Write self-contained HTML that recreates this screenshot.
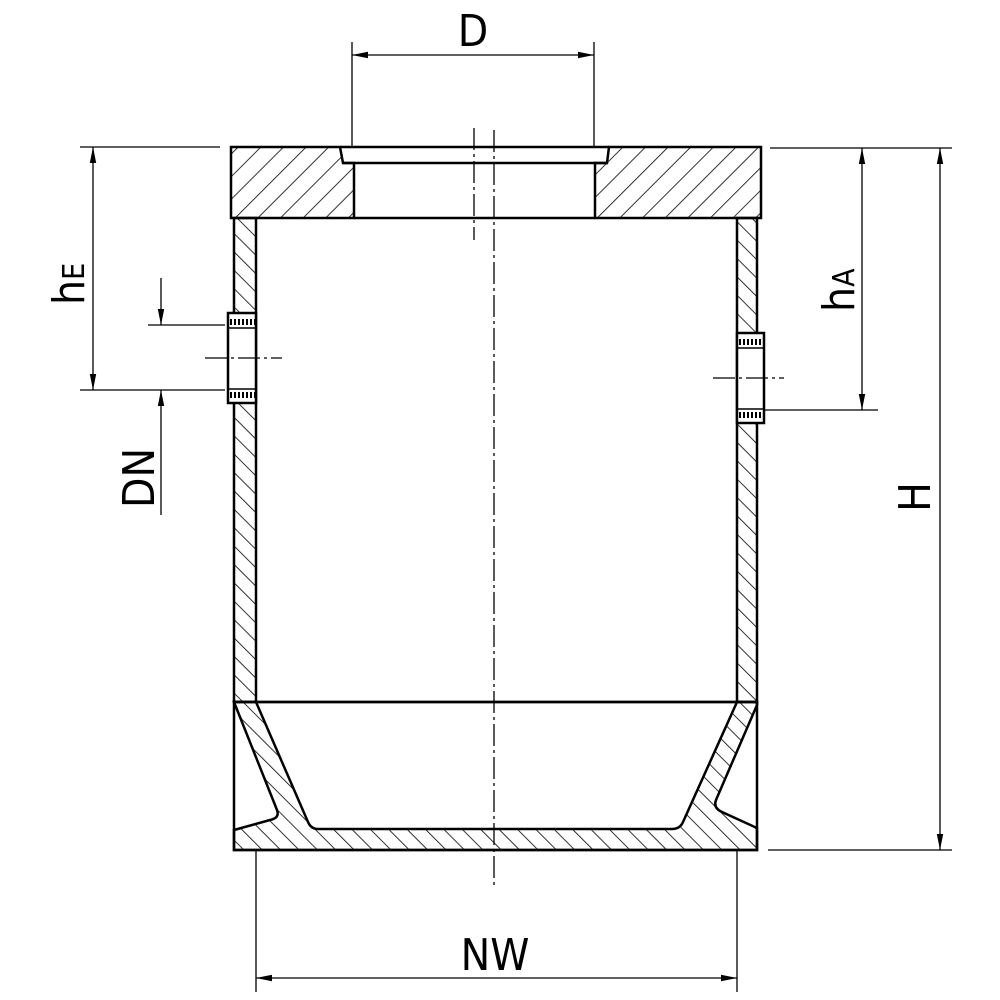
<!DOCTYPE html>
<html><head><meta charset="utf-8"><style>html,body{margin:0;padding:0;background:#fff}svg{display:block}</style></head>
<body>
<svg width="1000" height="1000" viewBox="0 0 1000 1000" xmlns="http://www.w3.org/2000/svg" font-family="DejaVu Sans Condensed, DejaVu Sans, Liberation Sans, sans-serif">
<defs>
<pattern id="hf" patternUnits="userSpaceOnUse" width="16" height="16" patternTransform="rotate(45)"><line x1="0" y1="0" x2="0" y2="16" stroke="#000" stroke-width="1.6"/></pattern>
<pattern id="hb" patternUnits="userSpaceOnUse" width="13" height="13" patternTransform="rotate(-45)"><line x1="0" y1="0" x2="0" y2="13" stroke="#000" stroke-width="1.6"/></pattern>
<marker id="ar" viewBox="0 0 10 10" refX="10" refY="5" markerWidth="16" markerHeight="16" markerUnits="userSpaceOnUse" orient="auto-start-reverse"><path d="M0,3 L10,5 L0,7 z" fill="#000"/></marker>
</defs>
<g stroke="#000" fill="none">
<!-- lid -->
<path d="M231,147 H340 L343,163 H354 V218 H231 Z" fill="url(#hf)" stroke-width="2.5"/>
<path d="M609,147 H761 V218 H595 V163 H607 Z" fill="url(#hf)" stroke-width="2.5"/>
<path d="M340,147 H609 M343,163 H607 M354,218 H595" stroke-width="2.5"/>
<!-- walls -->
<rect x="234" y="218" width="22" height="484" fill="url(#hb)" stroke-width="2.5"/>
<rect x="737" y="218" width="20" height="484" fill="url(#hb)" stroke-width="2.5"/>
<!-- sockets -->
<rect x="228" y="313" width="28" height="90" fill="#fff" stroke-width="2.5"/>
<line x1="230" y1="322" x2="256" y2="322" stroke-width="6" stroke-dasharray="2 2"/>
<line x1="230" y1="395" x2="256" y2="395" stroke-width="6" stroke-dasharray="2 2"/>
<line x1="228" y1="328" x2="256" y2="328" stroke-width="1.5"/>
<line x1="228" y1="389" x2="256" y2="389" stroke-width="1.5"/>
<rect x="737" y="333" width="27" height="90" fill="#fff" stroke-width="2.5"/>
<line x1="739" y1="342" x2="764" y2="342" stroke-width="6" stroke-dasharray="2 2"/>
<line x1="739" y1="415" x2="764" y2="415" stroke-width="6" stroke-dasharray="2 2"/>
<line x1="737" y1="348" x2="764" y2="348" stroke-width="1.5"/>
<line x1="737" y1="409" x2="764" y2="409" stroke-width="1.5"/>
<!-- bottom -->
<rect x="234" y="702" width="523" height="148" fill="#fff" stroke-width="2.5"/>
<path d="M234,702 L277,810 Q280,818 270,820 L234,830 V850 H757 V828 L722,812 Q713,808 716,800 L757,705 V702 H737 L683,822 Q680,829 672,829 H318 Q311,829 308,822 L256,702 Z" fill="url(#hb)" stroke-width="2.5"/>
<line x1="234" y1="702" x2="757" y2="702" stroke-width="2.5"/>
</g>
<!-- centerlines -->
<g stroke="#000" stroke-width="1.3" fill="none">
<line x1="494" y1="130" x2="494" y2="885" stroke-dasharray="22 4 3 4"/>
<line x1="474" y1="128" x2="474" y2="240" stroke-dasharray="22 4 3 4"/>
<line x1="205" y1="358" x2="282" y2="358" stroke-dasharray="22 4 3 4"/>
<line x1="713" y1="378" x2="784" y2="378" stroke-dasharray="22 4 3 4"/>
</g>
<!-- dimensions -->
<g stroke="#000" stroke-width="1.3" fill="none">
<line x1="352" y1="42" x2="352" y2="147"/><line x1="594" y1="42" x2="594" y2="147"/>
<line x1="352" y1="55" x2="594" y2="55" marker-start="url(#ar)" marker-end="url(#ar)"/>
<line x1="80" y1="147" x2="220" y2="147"/><line x1="80" y1="390" x2="225" y2="390"/>
<line x1="148" y1="325" x2="225" y2="325"/>
<line x1="93" y1="147" x2="93" y2="390" marker-start="url(#ar)" marker-end="url(#ar)"/>
<line x1="161" y1="278" x2="161" y2="325" marker-end="url(#ar)"/>
<line x1="161" y1="515" x2="161" y2="390" marker-end="url(#ar)"/>
<line x1="770" y1="148" x2="952" y2="148"/><line x1="764" y1="410" x2="878" y2="410"/>
<line x1="768" y1="850" x2="952" y2="850"/>
<line x1="862" y1="148" x2="862" y2="410" marker-start="url(#ar)" marker-end="url(#ar)"/>
<line x1="940" y1="148" x2="940" y2="850" marker-start="url(#ar)" marker-end="url(#ar)"/>
<line x1="256" y1="850" x2="256" y2="992"/><line x1="737" y1="850" x2="737" y2="992"/>
<line x1="256" y1="978" x2="737" y2="978" marker-start="url(#ar)" marker-end="url(#ar)"/>
</g>
<g fill="#000" font-size="44">
<text x="473" y="46" text-anchor="middle">D</text>
<text x="495" y="970" text-anchor="middle">NW</text>
<text transform="translate(930,497) rotate(-90)" text-anchor="middle">H</text>
<text transform="translate(154,478) rotate(-90)" text-anchor="middle">DN</text>
<text transform="translate(84,305) rotate(-90)">h<tspan font-size="30">E</tspan></text>
<text transform="translate(854,312) rotate(-90)">h<tspan font-size="30">A</tspan></text>
</g>
</svg>
</body></html>
